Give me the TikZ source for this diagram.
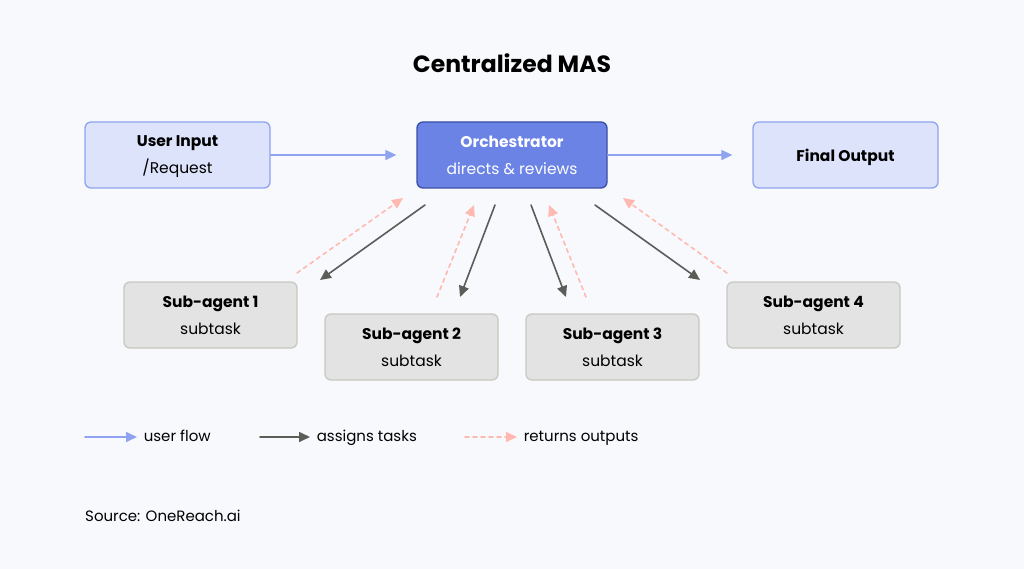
\documentclass[tikz,border=0pt]{standalone}
\usepackage{fontspec}
\setmainfont{Poppins}
\usetikzlibrary{arrows.meta}
\definecolor{bgcol}{HTML}{F8F9FD}
\definecolor{flowcol}{HTML}{8FA3F0}
\definecolor{userfill}{HTML}{DCE3FB}
\definecolor{orchfill}{HTML}{6A83E5}
\definecolor{orchline}{HTML}{3B4FA6}
\definecolor{subfill}{HTML}{E3E3E3}
\definecolor{subline}{HTML}{C8C8C0}
\definecolor{taskcol}{HTML}{5A5D58}
\definecolor{retcol}{HTML}{FFB9B0}
\begin{document}
\begin{tikzpicture}[x=1pt,y=-1pt,line cap=round,line join=round,font=\fontsize{15.5}{27}\selectfont,
  >={Triangle[length=11pt,width=10pt]}]
  \tikzset{box/.style={rounded corners=6pt,minimum height=66pt,align=center,line width=1.3pt,text depth=-4pt},
    userbox/.style={box,draw=flowcol,fill=userfill,minimum width=185pt},
    orchbox/.style={box,draw=orchline,fill=orchfill,minimum width=190pt,text=white},
    subbox/.style={box,draw=subline,fill=subfill,minimum width=173pt},
    flow/.style={->,flowcol,line width=1.6pt},
    task/.style={->,taskcol,line width=1.6pt},
    ret/.style={->,retcol,line width=1.6pt,dash pattern=on 4pt off 4pt},
    legtext/.style={right=6pt,black,font=\fontsize{15}{18}\selectfont,text height=11pt,text depth=3pt,inner sep=0pt}}
  \fill[bgcol] (0,0) rectangle (1024,569);
  \node[font=\fontsize{23.5}{28}\selectfont\bfseries] (title) at (512,63) {Centralized MAS};
  % top row
  \node[userbox,text depth=-9pt] (user) at (177.5,155) {\textbf{User Input}\\/Request};
  \node[orchbox,text depth=-8pt] (orch) at (512,155) {\textbf{Orchestrator}\\directs \& reviews};
  \node[userbox,text depth=0pt] (final) at (845.5,155) {\textbf{Final Output}};
  \draw[flow,shorten >=20pt] (user) -- (orch);
  \draw[flow,shorten >=20pt] (orch) -- (final);
  % sub-agents
  \node[subbox] (sa1) at (210.5,315) {\textbf{Sub-agent 1}\\subtask};
  \node[subbox] (sa2) at (411.5,347) {\textbf{Sub-agent 2}\\subtask};
  \node[subbox] (sa3) at (612.5,347) {\textbf{Sub-agent 3}\\subtask};
  \node[subbox] (sa4) at (813.5,315) {\textbf{Sub-agent 4}\\subtask};
  % arrow ends
  \coordinate (t1a) at (425,205); \coordinate (t1b) at (320,280);
  \coordinate (t2a) at (495,205); \coordinate (t2b) at (460,297);
  \coordinate (t3a) at (531,205); \coordinate (t3b) at (566,297);
  \coordinate (t4a) at (595,205); \coordinate (t4b) at (700,280);
  \coordinate (r1a) at (297,273); \coordinate (r1b) at (403,198);
  \coordinate (r2a) at (437,297); \coordinate (r2b) at (474,205);
  \coordinate (r3a) at (586,297); \coordinate (r3b) at (549,205);
  \coordinate (r4a) at (727,273); \coordinate (r4b) at (623,198);
  \foreach \i in {1,2,3,4}{
    \draw[task] (t\i a) -- (t\i b);
    \draw[ret] (r\i a) -- (r\i b);
  }
  % legend
  \coordinate (l1a) at (85,437); \coordinate (l1b) at (137,437);
  \coordinate (l2a) at (260,437); \coordinate (l2b) at (310,437);
  \coordinate (l3a) at (465,437); \coordinate (l3b) at (517,437);
  \draw[flow] (l1a) -- (l1b) node[legtext] (lflow) {user flow};
  \draw[task] (l2a) -- (l2b) node[legtext] (ltask) {assigns tasks};
  \draw[ret] (l3a) -- (l3b) node[legtext] (lret) {returns outputs};
  \node[anchor=west,inner sep=0pt,font=\fontsize{15}{18}\selectfont] (src) at (85,516) {Source: OneReach.ai};
\end{tikzpicture}
\end{document}
